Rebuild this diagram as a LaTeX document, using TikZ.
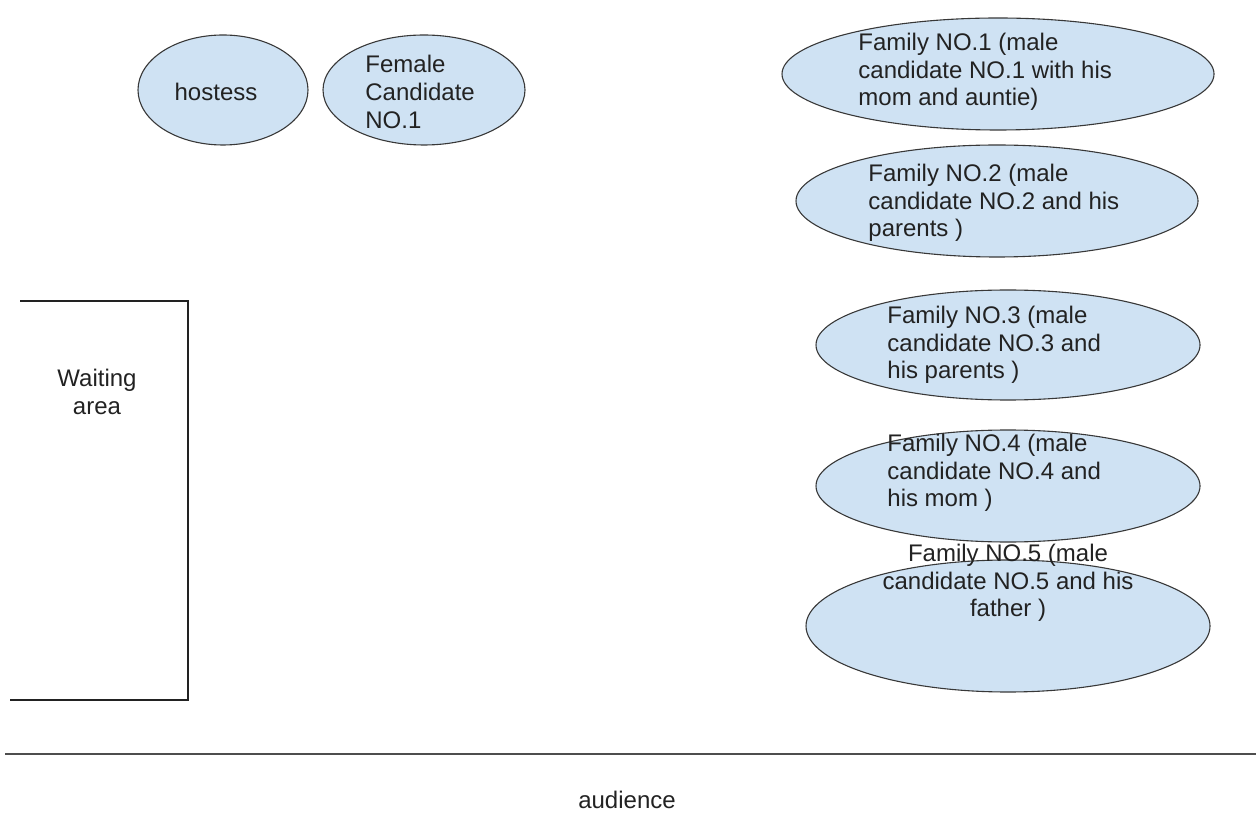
\documentclass[tikz,border=0pt]{standalone}
\usepackage{fontspec}
\setmainfont{Liberation Sans}
\usetikzlibrary{shapes.geometric, positioning}
\definecolor{seat}{HTML}{CFE2F3}
\definecolor{ink}{HTML}{222222}
\tikzset{x=0.5pt, y=-0.5pt, font=\fontsize{12}{13.8}\selectfont,
    seat/.style={ellipse, draw=ink!90, line width=0.55pt, fill=seat, inner sep=0pt},
    lbl/.style={text=ink, align=left, inner sep=0pt}}

\begin{document}
\begin{tikzpicture}
        \useasboundingbox (0,0) rectangle (1256,817);
        % stage: hostess and female candidate
        \node[seat, minimum width=85pt, minimum height=55pt] (hostess) at (223,90) {};
        \node[seat, minimum width=101pt, minimum height=55pt] (female) at (424,90) {};
        \node[lbl] (hostesstxt) at (216,92) {hostess};
        \node[lbl, anchor=west] (femaletxt) at (365,92) {Female\\Candidate\\NO.1};
        % families
        \node[seat, minimum width=216pt, minimum height=56pt] (fam1) at (998,74) {};
        \node[seat, minimum width=201pt, minimum height=56pt] (fam2) at (997,201) {};
        \node[seat, minimum width=192pt, minimum height=55pt] (fam3) at (1008,345) {};
        \node[seat, minimum width=192pt, minimum height=56pt] (fam4) at (1008,486) {};
        \node[seat, minimum width=202pt, minimum height=66pt] (fam5) at (1008,626) {};
        \node[lbl, anchor=west] (fam1txt) at (858,72) {Family NO.1 (male\\candidate NO.1 with his\\mom and auntie)};
        \node[lbl, anchor=west] (fam2txt) at (868,203) {Family NO.2 (male\\candidate NO.2 and his\\parents )};
        \node[lbl, anchor=west] (fam3txt) at (887,345) {Family NO.3 (male\\candidate NO.3 and\\his parents )};
        \node[lbl, anchor=west] (fam4txt) at (887,473) {Family NO.4 (male\\candidate NO.4 and\\his mom )};
        \node[lbl, align=center] (fam5txt) at (1008,583) {Family NO.5 (male\\candidate NO.5 and his\\father )};
        % waiting area
        \draw[ink, line width=0.7pt] (20,301) -- (188,301) -- (188,700) -- (10,700);
        \node[lbl, align=center] (waiting) at (97,392) {Waiting\\area};
        % audience
        \draw[ink!80, line width=0.8pt] (5,754) -- (1256,754);
        \node[lbl] (audience) at (627,800) {audience};
\end{tikzpicture}
\end{document}
